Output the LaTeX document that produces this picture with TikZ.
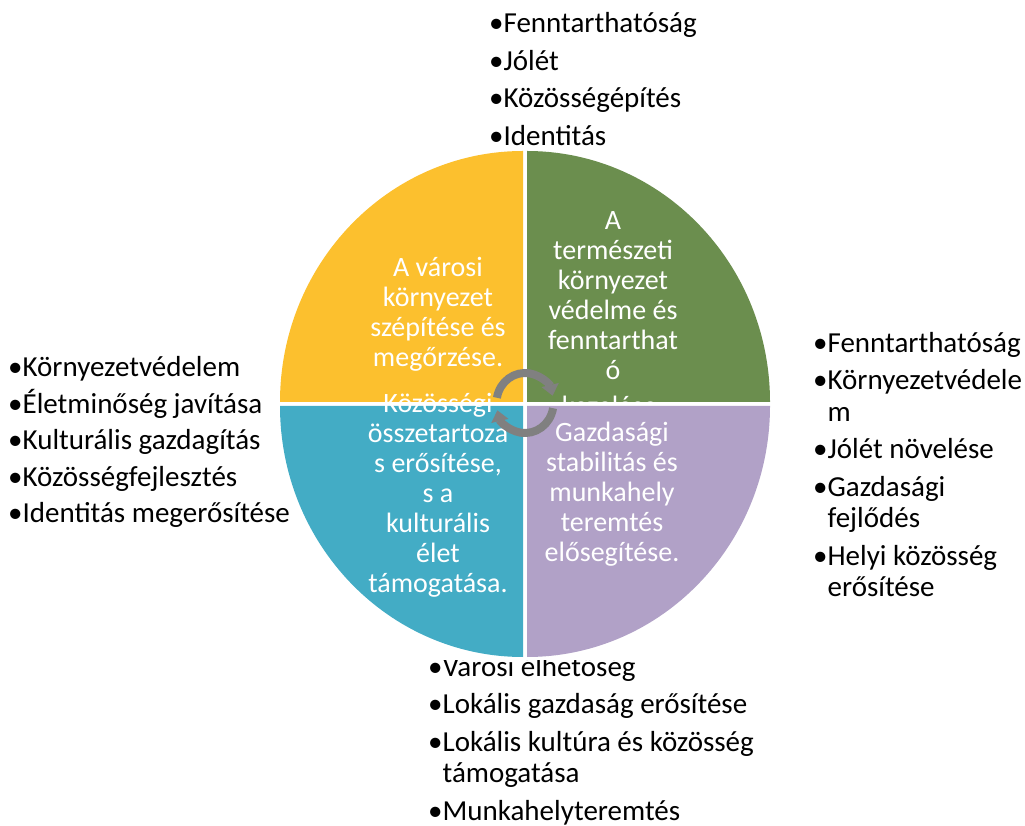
\documentclass[tikz,border=0pt]{standalone}
\usepackage{fontspec}
\setmainfont{Carlito}
\usepackage{tikz}
\usetikzlibrary{arrows.meta}

\definecolor{quadyellow}{HTML}{FCC02E}
\definecolor{quadgreen}{HTML}{6B8E4E}
\definecolor{quadteal}{HTML}{43ACC5}
\definecolor{quadpurple}{HTML}{B1A1C7}
\definecolor{cyclegray}{HTML}{808080}

\newcommand{\hang}{\phantom{•}}

\begin{document}
\begin{tikzpicture}[
        x=1pt, y=1pt, % 1 pont = 1 képpont
        % --- Saját stílusok (a node az utolsó sor alapvonalán ül) ---
        quadtext/.style={white, align=center, inner sep=0pt, anchor=base,
            font=\fontsize{28}{30}\selectfont},
        bulletlist/.style={black, align=left, inner sep=0pt, anchor=base west,
            font=\fontsize{29}{31.5}\selectfont},
        cyclearrow/.style={-{Triangle[width=17pt, length=11pt]}, line width=8pt, cyclegray},
    ]
        \useasboundingbox (0,0) rectangle (1025,825);

        % --- 1. Felsorolások a kör körül ---
        \begin{scope}
            \clip (0,677) rectangle (1025,825);
            \node[bulletlist] (listtop) at (489,679.5)
                {•Fenntarthatóság\\[6pt] •Jólét\\[6pt] •Közösségépítés\\[6pt] •Identitás};
        \end{scope}
        \node[bulletlist] (listleft) at (8,302)
            {•Környezetvédelem\\[5pt] •Életminőség javítása\\[5pt] •Kulturális gazdagítás\\[5pt]
             •Közösségfejlesztés\\[5pt] •Identitás megerősítése};
        \node[bulletlist] (listright) at (813,228)
            {•Fenntarthatóság\\[6pt] •Környezetvédele\\ \hang m\\[6pt] •Jólét növelése\\[6pt]
             •Gazdasági\\ \hang fejlődés\\[6pt] •Helyi közösség\\ \hang erősítése};
        \begin{scope}
            \clip (0,0) rectangle (1025,165);
            \node[bulletlist] (listbottom) at (428,5)
                {•Városi élhetőség\\[6pt] •Lokális gazdaság erősítése\\[6pt]
                 •Lokális kultúra és közösség\\ \hang támogatása\\[6pt] •Munkahelyteremtés};
        \end{scope}

        % --- 2. A négy negyedkör, mindegyik a saját szövegével ---
        \fill[quadyellow] (523,423) -- ++(-243,0) arc (180:90:243 and 251) -- cycle;
        \node[quadtext] (txtvaros) at (438,458)
            {A városi\\ környezet\\ szépítése és\\ megőrzése.};

        \fill[quadgreen] (527,423) -- ++(0,251) arc (90:0:243 and 251) -- cycle;
        \node[quadtext] (txttermeszet) at (613,409)
            {A\\ természeti\\ környezet\\ védelme és\\ fenntarthat\\ ó\\[6pt] kezelése.};

        \fill[quadteal] (523,419) -- ++(0,-251) arc (270:180:243 and 251) -- cycle;
        \node[quadtext] (txtkozosseg) at (438,232)
            {Közösségi\\ összetartoza\\ s erősítése,\\ s a\\ kulturális\\ élet\\ támogatása.};

        \fill[quadpurple] (527,419) -- ++(243,0) arc (0:-90:243 and 251) -- cycle;
        \node[quadtext] (txtgazdasag) at (612,263)
            {Gazdasági\\ stabilitás és\\ munkahely\\ teremtés\\ elősegítése.};

        % --- 3. Körforgást jelző nyilak középen ---
        \coordinate (hub) at (525,422);
        \draw[cyclearrow] (hub) ++(170:28.5 and 30) arc (170:14:28.5 and 30);
        \draw[cyclearrow] (hub) ++(-10:28.5 and 30) arc (-10:-166:28.5 and 30);

    \end{tikzpicture}
\end{document}
